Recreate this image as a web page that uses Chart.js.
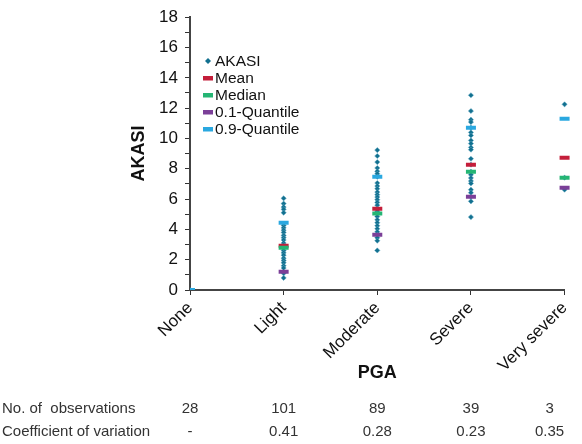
<!DOCTYPE html>
<html>
<head>
<meta charset="utf-8">
<script src="https://cdn.jsdelivr.net/npm/chart.js@4.4.1/dist/chart.umd.min.js"></script>
<style>
  html, body { margin: 0; padding: 0; background: #fff; }
  #wrap { position: relative; width: 582px; height: 444px; }
</style>
</head>
<body>
<div id="wrap"><canvas id="akasiChart" width="582" height="444"></canvas></div>
<script>
// damage classes on the x axis
const categories = ["None", "Light", "Moderate", "Severe", "Very severe"];

// AKASI observations per class
const akasiNone = [0];
const akasiLight = [6.05, 5.7, 5.47, 5.32, 5.1, 4.26, 4.1, 3.95, 3.8, 3.6, 3.45, 3.3, 3.1,
  2.95, 2.8, 2.6, 2.45, 2.3, 2.1, 1.95, 1.8, 1.6, 1.45, 1.1, 0.8];
const akasiModerate = [9.23, 8.84, 8.44, 8.05, 7.83, 7.67, 7.47, 7.06, 6.86, 6.68, 6.46, 6.29,
  6.13, 5.96, 5.78, 5.6, 5.36, 5.2, 5.05, 4.85, 4.63, 4.44, 4.24, 4.04, 3.84, 3.64, 3.45, 3.25, 2.61];
const akasiSevere = [12.85, 11.81, 11.24, 11.08, 10.71, 10.4, 10.2, 9.87, 9.66, 9.41, 9.26, 8.66,
  8.27, 7.81, 7.61, 7.39, 7.19, 7.03, 6.62, 6.42, 6.16, 5.85, 4.81];
const akasiVerySevere = [12.25, 7.41, 6.62];

// summary statistics per class
const meanValues = [0, 2.92, 5.36, 8.27, 8.73];
const medianValues = [0, 2.79, 5.05, 7.81, 7.41];
const q10Values = [0, 1.2, 3.64, 6.16, 6.75];
const q90Values = [0, 4.44, 7.47, 10.71, 11.3];

// table under the chart
const observations = ["28", "101", "89", "39", "3"];
const variation = ["-", "0.41", "0.28", "0.23", "0.35"];

const yTicks = [0, 2, 4, 6, 8, 10, 12, 14, 16, 18];

//build scatter points from the class lists
const akasiPoints = [];
[akasiNone, akasiLight, akasiModerate, akasiSevere, akasiVerySevere].forEach((list, i) => {
  list.forEach(v => akasiPoints.push({ x: i, y: v }));
});

function statPoints(values) {
  return values.map((v, i) => ({ x: i, y: v }));
}

//let marks at the right edge show fully, keep the corner at None clipped
const markClip = { left: 0, top: 10, right: 10, bottom: 0 };

function dashSet(label, values, color, order) {
  return {
    label: label,
    data: statPoints(values),
    pointStyle: "line",
    pointRadius: 5,
    pointHoverRadius: 5,
    pointBorderWidth: 4,
    pointBorderColor: color,
    borderColor: color,
    backgroundColor: color,
    showLine: false,
    clip: markClip,
    order: order
  };
}

//legend drawn inside the plot area
const innerLegend = {
  id: "innerLegend",
  afterDatasetsDraw(chart) {
    const ctx = chart.ctx;
    const items = [
      { text: "AKASI", color: "#12708f", diamond: true },
      { text: "Mean", color: "#c41e3a" },
      { text: "Median", color: "#25b574" },
      { text: "0.1-Quantile", color: "#7b3f98" },
      { text: "0.9-Quantile", color: "#2aa8e0" }
    ];
    ctx.save();
    ctx.font = "15.5px 'Liberation Sans', Arial, sans-serif";
    ctx.textBaseline = "middle";
    ctx.textAlign = "left";
    items.forEach((it, i) => {
      const y = 61 + i * 17;
      ctx.fillStyle = it.color;
      if (it.diamond) {
        ctx.beginPath();
        ctx.moveTo(208, y - 3);
        ctx.lineTo(211, y);
        ctx.lineTo(208, y + 3);
        ctx.lineTo(205, y);
        ctx.closePath();
        ctx.fill();
      } else {
        ctx.fillRect(203, y - 2, 10, 4.5);
      }
      ctx.fillStyle = "#111";
      ctx.fillText(it.text, 215, y + 1);
    });
    ctx.restore();
  }
};

//observation table under the axis
const bottomTable = {
  id: "bottomTable",
  afterDraw(chart) {
    const ctx = chart.ctx;
    const xs = chart.scales.x;
    ctx.save();
    ctx.font = "15px 'Liberation Sans', Arial, sans-serif";
    ctx.fillStyle = "#333";
    ctx.textBaseline = "middle";
    ctx.textAlign = "left";
    ctx.fillText("No. of  observations", 2, 409);
    ctx.fillText("Coefficient of variation", 2, 432);
    ctx.textAlign = "center";
    categories.forEach((c, i) => {
      let x = xs.getPixelForValue(i);
      if (i === categories.length - 1) x -= 15;
      ctx.fillText(observations[i], x, 409);
      ctx.fillText(variation[i], x, 432);
    });
    ctx.restore();
  }
};

const ctx = document.getElementById("akasiChart").getContext("2d");

new Chart(ctx, {
  type: "scatter",
  data: {
    datasets: [
      {
        label: "AKASI",
        data: akasiPoints,
        pointStyle: "rectRot",
        pointRadius: 2.6,
        pointHoverRadius: 2.6,
        pointBorderWidth: 0.5,
        pointBackgroundColor: "#12708f",
        pointBorderColor: "#5aa6c2",
        clip: markClip,
        order: 5
      },
      dashSet("Mean", meanValues, "#c41e3a", 4),
      dashSet("Median", medianValues, "#25b574", 3),
      dashSet("0.1-Quantile", q10Values, "#7b3f98", 2),
      dashSet("0.9-Quantile", q90Values, "#2aa8e0", 1)
    ]
  },
  options: {
    responsive: false,
    animation: false,
    events: [],
    layout: {
      padding: { left: 120, right: 17, top: 17, bottom: 60 }
    },
    plugins: {
      legend: { display: false },
      tooltip: { enabled: false }
    },
    scales: {
      x: {
        type: "linear",
        min: 0,
        max: 4,
        afterFit(scale) { scale.height = 94; },
        afterBuildTicks(scale) {
          scale.ticks = categories.map((c, i) => ({ value: i }));
        },
        ticks: {
          autoSkip: false,
          minRotation: 45,
          maxRotation: 45,
          padding: 3,
          color: "#111",
          font: { family: "'Liberation Sans', Arial, sans-serif", size: 17 },
          callback: v => categories[v]
        },
        grid: {
          drawOnChartArea: false,
          drawTicks: true,
          tickLength: 5,
          color: "#333"
        },
        border: { display: true, color: "#444", width: 2 },
        title: {
          display: true,
          text: "PGA",
          color: "#111",
          font: { family: "'Liberation Sans', Arial, sans-serif", size: 18, weight: "bold" },
          padding: { top: 0, bottom: 0 }
        }
      },
      y: {
        min: 0,
        max: 18,
        afterFit(scale) { scale.width = 70; },
        afterBuildTicks(scale) {
          const t = [];
          for (let v = 0; v <= 18; v++) t.push({ value: v });
          scale.ticks = t;
        },
        ticks: {
          autoSkip: false,
          padding: 7,
          color: "#111",
          font: { family: "'Liberation Sans', Arial, sans-serif", size: 17 },
          callback: v => (yTicks.includes(v) ? String(v) : "")
        },
        grid: {
          drawOnChartArea: false,
          drawTicks: true,
          tickLength: 5,
          color: "#333"
        },
        border: { display: true, color: "#444", width: 2 },
        title: {
          display: true,
          text: "AKASI",
          color: "#111",
          font: { family: "'Liberation Sans', Arial, sans-serif", size: 18, weight: "bold" },
          padding: { top: 8, bottom: 0 }
        }
      }
    }
  },
  plugins: [innerLegend, bottomTable]
});
</script>
</body>
</html>
